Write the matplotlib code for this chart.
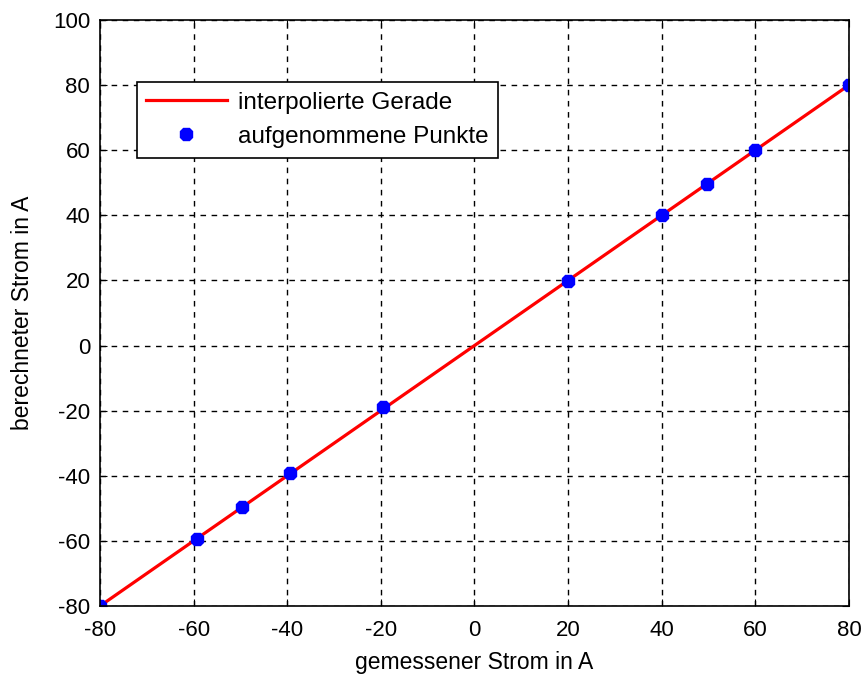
import matplotlib.pyplot as plt

# gemessener / berechneter Strom
meas_x = [-80, -59.3, -49.6, -39.4, -19.5, 20, 40, 49.6, 60, 80]
calc_y = [-80, -59.3, -49.6, -39.2, -19.0, 19.8, 40, 49.6, 60, 80]
line_x = [-80, 80]
line_y = [-80, 80]

plt.rcParams['font.family'] = ['Liberation Sans', 'DejaVu Sans']
plt.rcParams['axes.unicode_minus'] = False

fig = plt.figure(figsize=(8.61, 6.75), dpi=100)
ax = fig.add_axes([0.1161, 0.1022, 0.8699, 0.8682])

ax.plot(line_x, line_y, color="red", lw=2.3, label="interpolierte Gerade")
ax.plot(meas_x, calc_y, linestyle="none", marker="8", ms=10, color="blue",
        label="aufgenommene Punkte")

ax.set_xlim(-80, 80)
ax.set_ylim(-80, 100)
ax.set_xticks(range(-80, 81, 20))
ax.set_yticks(range(-80, 101, 20))
ax.grid(True, color="black", linestyle=(0, (4, 4)), lw=1)
ax.tick_params(direction="in", top=True, right=True, labelsize=16, length=5)
ax.tick_params(axis="x", pad=10)
ax.tick_params(axis="y", pad=7)
for s in ax.spines.values():
    s.set_linewidth(1.2)

ax.set_xlabel("gemessener Strom in A", fontsize=16.5, labelpad=7)
ax.set_ylabel("berechneter Strom in A", fontsize=16.5, labelpad=14)

leg = ax.legend(loc="upper left", bbox_to_anchor=(0.049, 0.894),
                borderaxespad=0, fontsize=17.5, fancybox=False, framealpha=1,
                edgecolor="black", handlelength=3.3, handletextpad=0.45,
                labelspacing=0.5, borderpad=0.4, numpoints=1)
leg.get_frame().set_linewidth(1.2)

fig.savefig("out.png", dpi=100)
